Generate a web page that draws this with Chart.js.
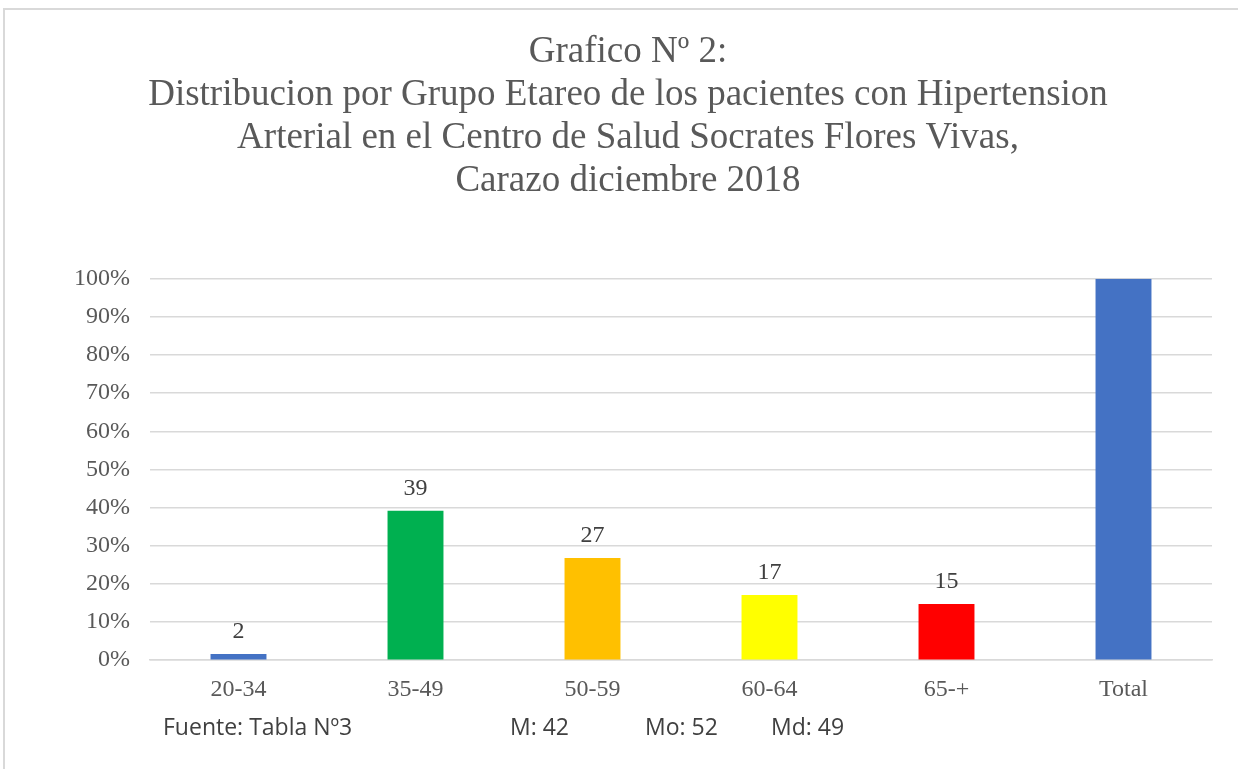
<!DOCTYPE html>
<html>
<head>
<meta charset="utf-8">
<script src="https://cdn.jsdelivr.net/npm/chart.js@4.4.1/dist/chart.umd.min.js"></script>
<style>
  html, body { margin: 0; padding: 0; background: #fff; overflow: hidden; }
  #marco {
    position: absolute; left: 3px; top: 8px; width: 1300px; height: 820px;
    border: 2px solid #d9d9d9; box-sizing: border-box;
  }
  #contenedor { position: absolute; left: 0; top: 0; width: 1238px; height: 769px; }
  .pie {
    position: absolute; top: 710px; font-family: "Open Sans", "Noto Sans", sans-serif;
    font-size: 23px; color: #404040; white-space: nowrap;
  }
</style>
</head>
<body>
<div id="marco"></div>
<div id="contenedor"><canvas id="grafico" width="1238" height="769"></canvas></div>
<span class="pie" style="left:163px">Fuente: Tabla Nº3</span>
<span class="pie" style="left:510px">M: 42</span>
<span class="pie" style="left:645px">Mo: 52</span>
<span class="pie" style="left:771px">Md: 49</span>
<script>
// Datos del grafico (porcentaje por grupo etareo)
var gruposEdad = ["20-34", "35-49", "50-59", "60-64", "65-+", "Total"];
var porcentajes = [1.6, 39.2, 26.8, 17.1, 14.7, 100];
var etiquetas = ["2", "39", "27", "17", "15", ""];
var colores = ["#4472C4", "#00B050", "#FFC000", "#FFFF00", "#FF0000", "#4472C4"];
var ticksY = [0, 10, 20, 30, 40, 50, 60, 70, 80, 90, 100];

var titulo = [
    "Grafico Nº 2:",
    "Distribucion por Grupo Etareo de los pacientes con Hipertension",
    "Arterial en el Centro de Salud Socrates Flores Vivas,",
    "Carazo diciembre 2018"
];

var fuenteSerif = "'Liberation Serif', 'Times New Roman', serif";

// Plugin para escribir el valor encima de cada barra
var etiquetasBarras = {
    id: "etiquetasBarras",
    afterDatasetsDraw: function (chart) {
        var ctx = chart.ctx;
        var meta = chart.getDatasetMeta(0);
        ctx.save();
        ctx.font = "24px " + fuenteSerif;
        ctx.fillStyle = "#404040";
        ctx.textAlign = "center";
        ctx.textBaseline = "alphabetic";
        meta.data.forEach(function (barra, i) {
            if (etiquetas[i]) {
                ctx.fillText(etiquetas[i], barra.x, barra.y - 16);
            }
        });
        ctx.restore();
    }
};

var ctx = document.getElementById("grafico").getContext("2d");
var miGrafico = new Chart(ctx, {
    type: "bar",
    data: {
        labels: gruposEdad,
        datasets: [
            {
                data: porcentajes,
                backgroundColor: colores,
                borderWidth: 0,
                categoryPercentage: 1,
                barPercentage: 0.316,
            },
        ],
    },
    options: {
        responsive: false,
        animation: false,
        layout: {
            // padding izquierdo para centrar el titulo como en el original
            padding: { left: 44, right: 26, top: 31, bottom: 50 },
        },
        plugins: {
            legend: { display: false },
            tooltip: { enabled: false },
            title: {
                display: true,
                text: titulo,
                color: "#595959",
                font: { family: fuenteSerif, size: 37, weight: "normal", lineHeight: 1.16 },
                padding: { top: 0, bottom: 76 },
            },
        },
        scales: {
            y: {
                min: 0,
                max: 100,
                afterBuildTicks: function (scale) {
                    scale.ticks = ticksY.map(function (v) { return { value: v }; });
                },
                afterFit: function (scale) {
                    scale.width = 106;
                },
                ticks: {
                    callback: function (v) { return v + "%"; },
                    color: "#595959",
                    font: { family: fuenteSerif, size: 24 },
                    padding: 20,
                },
                grid: { color: "#d9d9d9", lineWidth: 1.5, drawTicks: false },
                border: { display: false },
            },
            x: {
                ticks: {
                    color: "#595959",
                    font: { family: fuenteSerif, size: 24 },
                    padding: 15,
                },
                grid: { display: false, drawTicks: false },
                border: { color: "#d9d9d9", width: 1.5 },
            },
        },
    },
    plugins: [etiquetasBarras],
});
</script>
</body>
</html>
